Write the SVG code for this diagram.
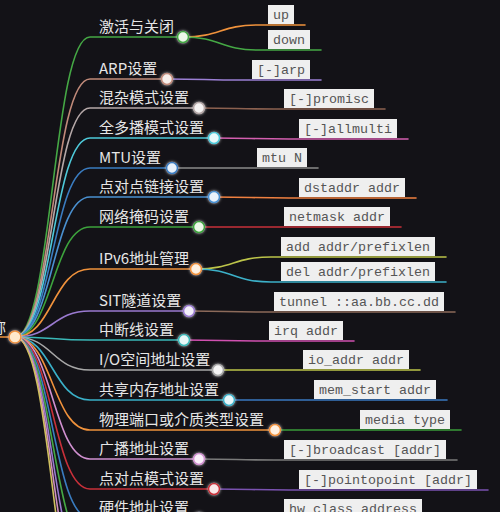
<svg xmlns="http://www.w3.org/2000/svg" width="500" height="512" viewBox="0 0 500 512">
<defs>
<style>
.bg{fill:#131217}
.lk{fill:none;stroke-width:1.6;stroke-linecap:round}
.lb{font-family:"Noto Sans CJK SC","Noto Sans",sans-serif;font-size:15px;fill:#e6e6e6}
.bx{fill:#efefef}
.bt{font-family:"Liberation Mono","DejaVu Sans Mono",monospace;font-size:13.33px;fill:#555}
.nd{stroke-width:1.6;filter:url(#glow)}
</style>
<filter id="glow" x="-100%" y="-100%" width="300%" height="300%">
<feDropShadow dx="0" dy="0" stdDeviation="1.6" flood-color="#ffffff" flood-opacity="0.7"/>
</filter>
</defs>
<rect class="bg" x="0" y="0" width="500" height="512"/>
<g id="connectors">
<path class="lk" stroke="#f0923c" d="M0,337 L15,337"/>
<path class="lk" stroke="#45a845" d="M15,337 C52.5,337 52.5,37 90,37 L183,37"/>
<path class="lk" stroke="#c08a7a" d="M15,337 C52.5,337 52.5,79 90,79 L167,79"/>
<path class="lk" stroke="#b5a8a8" d="M15,337 C52.5,337 52.5,108 90,108 L199,108"/>
<path class="lk" stroke="#4ec9d9" d="M15,337 C52.5,337 52.5,138 90,138 L214,138"/>
<path class="lk" stroke="#3a7cc0" d="M15,337 C52.5,337 52.5,168 90,168 L172,168"/>
<path class="lk" stroke="#4a90d0" d="M15,337 C52.5,337 52.5,197 90,197 L214,197"/>
<path class="lk" stroke="#3da33d" d="M15,337 C52.5,337 52.5,227 90,227 L199,227"/>
<path class="lk" stroke="#f0923c" d="M15,337 C52.5,337 52.5,269 90,269 L196,269"/>
<path class="lk" stroke="#9a7ad0" d="M15,337 C52.5,337 52.5,311 90,311 L189,311"/>
<path class="lk" stroke="#3ab8b8" d="M15,337 C52.5,337 52.5,340 90,340 L184,340"/>
<path class="lk" stroke="#a8a8a8" d="M15,337 C52.5,337 52.5,370 90,370 L218,370"/>
<path class="lk" stroke="#3ab0c8" d="M15,337 C52.5,337 52.5,400 90,400 L229,400"/>
<path class="lk" stroke="#f0923c" d="M15,337 C52.5,337 52.5,430 90,430 L275,430"/>
<path class="lk" stroke="#d090d0" d="M15,337 C52.5,337 52.5,459 90,459 L199,459"/>
<path class="lk" stroke="#c8303a" d="M15,337 C52.5,337 52.5,489 90,489 L214,489"/>
<path class="lk" stroke="#3a7cc0" d="M15,337 C52.5,337 52.5,518 90,518 L199,518"/>
<path class="lk" stroke="#45a845" d="M15,337 C52.5,337 52.5,548 90,548"/>
<path class="lk" stroke="#9a7ad0" d="M15,337 C52.5,337 52.5,578 90,578"/>
<path class="lk" stroke="#d090c0" d="M15,337 C52.5,337 52.5,608 90,608"/>
<path class="lk" stroke="#d0c060" d="M15,337 C52.5,337 52.5,638 90,638"/>
<path class="lk" stroke="#f0923c" d="M183,37 C220.5,37 220.5,25 258,25 L305,25"/>
<path class="lk" stroke="#45a845" d="M183,37 C220.5,37 220.5,50 258,50 L321,50"/>
<path class="lk" stroke="#9b7fd4" d="M167,79 C204.5,79 204.5,80 242,80 L321,80"/>
<path class="lk" stroke="#8c6150" d="M199,108 C236.5,108 236.5,109 274,109 L385,109"/>
<path class="lk" stroke="#d45fb0" d="M214,138 C251.5,138 251.5,139 289,139 L408,139"/>
<path class="lk" stroke="#8a8a8a" d="M172,168 L318,168"/>
<path class="lk" stroke="#f08040" d="M214,197 C251.5,197 251.5,198 289,198 L416,198"/>
<path class="lk" stroke="#c8303a" d="M199,227 L401,227"/>
<path class="lk" stroke="#bcc44a" d="M196,269 C233.5,269 233.5,257 271,257 L446,257"/>
<path class="lk" stroke="#3cb0c8" d="M196,269 C233.5,269 233.5,282 271,282 L446,282"/>
<path class="lk" stroke="#8c6a5a" d="M189,311 C226.5,311 226.5,312 264,312 L455,312"/>
<path class="lk" stroke="#d050b0" d="M184,340 C221.5,340 221.5,341 259,341 L354,341"/>
<path class="lk" stroke="#bcc44a" d="M218,370 L420,370"/>
<path class="lk" stroke="#3a78c0" d="M229,400 L447,400"/>
<path class="lk" stroke="#3a9a3a" d="M275,430 L461,430"/>
<path class="lk" stroke="#7a7a7a" d="M199,459 C236.5,459 236.5,460 274,460 L457,460"/>
<path class="lk" stroke="#7a52b0" d="M214,489 C251.5,489 251.5,490 289,490 L488,490"/>
<path class="lk" stroke="#8a8a8a" d="M199,518 C236.5,518 236.5,519 274,519 L433,519"/>
</g>
<g id="root">
<text class="lb" x="-9" y="333">称</text>
<circle class="nd" cx="15" cy="337" r="6" fill="#ffe9cc" stroke="#f0923c"/>
</g>
<g id="n1"><text class="lb" x="99" y="32">激活与关闭</text><circle class="nd" cx="183" cy="37" r="5.5" fill="#eef8ea" stroke="#45a845"/></g>
<g id="n1a"><rect class="bx" x="268" y="5" width="26" height="19"/><text class="bt" x="273" y="19">up</text></g>
<g id="n1b"><rect class="bx" x="268" y="30" width="42" height="19"/><text class="bt" x="273" y="44">down</text></g>
<g id="n2"><text class="lb" x="99" y="74">ARP设置</text><circle class="nd" cx="167" cy="79" r="5.5" fill="#f7efec" stroke="#c08a7a"/></g>
<g id="n2a"><rect class="bx" x="252" y="60" width="58" height="19"/><text class="bt" x="257" y="74">[-]arp</text></g>
<g id="n3"><text class="lb" x="99" y="103">混杂模式设置</text><circle class="nd" cx="199" cy="108" r="5.5" fill="#f5f3f3" stroke="#b5a8a8"/></g>
<g id="n3a"><rect class="bx" x="284" y="89" width="90" height="19"/><text class="bt" x="289" y="103">[-]promisc</text></g>
<g id="n4"><text class="lb" x="99" y="133">全多播模式设置</text><circle class="nd" cx="214" cy="138" r="5.5" fill="#eaf9fb" stroke="#4ec9d9"/></g>
<g id="n4a"><rect class="bx" x="299" y="119" width="98" height="19"/><text class="bt" x="304" y="133">[-]allmulti</text></g>
<g id="n5"><text class="lb" x="99" y="163">MTU设置</text><circle class="nd" cx="172" cy="168" r="5.5" fill="#e9f1fa" stroke="#3a7cc0"/></g>
<g id="n5a"><rect class="bx" x="257" y="148" width="50" height="19"/><text class="bt" x="262" y="162">mtu N</text></g>
<g id="n6"><text class="lb" x="99" y="192">点对点链接设置</text><circle class="nd" cx="214" cy="197" r="5.5" fill="#eaf2fb" stroke="#4a90d0"/></g>
<g id="n6a"><rect class="bx" x="299" y="178" width="106" height="19"/><text class="bt" x="304" y="192">dstaddr addr</text></g>
<g id="n7"><text class="lb" x="99" y="222">网络掩码设置</text><circle class="nd" cx="199" cy="227" r="5.5" fill="#ecf8e8" stroke="#3da33d"/></g>
<g id="n7a"><rect class="bx" x="284" y="207" width="106" height="19"/><text class="bt" x="289" y="221">netmask addr</text></g>
<g id="n8"><text class="lb" x="99" y="264">IPv6地址管理</text><circle class="nd" cx="196" cy="269" r="5.5" fill="#fff1e2" stroke="#f0923c"/></g>
<g id="n8a"><rect class="bx" x="281" y="237" width="154" height="19"/><text class="bt" x="286" y="251">add addr/prefixlen</text></g>
<g id="n8b"><rect class="bx" x="281" y="262" width="154" height="19"/><text class="bt" x="286" y="276">del addr/prefixlen</text></g>
<g id="n9"><text class="lb" x="99" y="306">SIT隧道设置</text><circle class="nd" cx="189" cy="311" r="5.5" fill="#f3effa" stroke="#9a7ad0"/></g>
<g id="n9a"><rect class="bx" x="274" y="292" width="170" height="19"/><text class="bt" x="279" y="306">tunnel ::aa.bb.cc.dd</text></g>
<g id="n10"><text class="lb" x="99" y="335">中断线设置</text><circle class="nd" cx="184" cy="340" r="5.5" fill="#e8f8f8" stroke="#3ab8b8"/></g>
<g id="n10a"><rect class="bx" x="269" y="321" width="74" height="19"/><text class="bt" x="274" y="335">irq addr</text></g>
<g id="n11"><text class="lb" x="99" y="365">I/O空间地址设置</text><circle class="nd" cx="218" cy="370" r="5.5" fill="#f5f5f5" stroke="#a8a8a8"/></g>
<g id="n11a"><rect class="bx" x="303" y="350" width="106" height="19"/><text class="bt" x="308" y="364">io_addr addr</text></g>
<g id="n12"><text class="lb" x="99" y="395">共享内存地址设置</text><circle class="nd" cx="229" cy="400" r="5.5" fill="#e8f7fa" stroke="#3ab0c8"/></g>
<g id="n12a"><rect class="bx" x="314" y="380" width="122" height="19"/><text class="bt" x="319" y="394">mem_start addr</text></g>
<g id="n13"><text class="lb" x="99" y="425">物理端口或介质类型设置</text><circle class="nd" cx="275" cy="430" r="5.5" fill="#fff1e2" stroke="#f0923c"/></g>
<g id="n13a"><rect class="bx" x="360" y="410" width="90" height="19"/><text class="bt" x="365" y="424">media type</text></g>
<g id="n14"><text class="lb" x="99" y="454">广播地址设置</text><circle class="nd" cx="199" cy="459" r="5.5" fill="#faf0fa" stroke="#d090d0"/></g>
<g id="n14a"><rect class="bx" x="284" y="440" width="162" height="19"/><text class="bt" x="289" y="454">[-]broadcast [addr]</text></g>
<g id="n15"><text class="lb" x="99" y="484">点对点模式设置</text><circle class="nd" cx="214" cy="489" r="5.5" fill="#fae9ea" stroke="#c8303a"/></g>
<g id="n15a"><rect class="bx" x="299" y="470" width="178" height="19"/><text class="bt" x="304" y="484">[-]pointopoint [addr]</text></g>
<g id="n16"><text class="lb" x="99" y="513">硬件地址设置</text><circle class="nd" cx="199" cy="518" r="5.5" fill="#e9f1fa" stroke="#3a7cc0"/></g>
<g id="n16a"><rect class="bx" x="284" y="499" width="138" height="19"/><text class="bt" x="289" y="513">hw class address</text></g>
</svg>
